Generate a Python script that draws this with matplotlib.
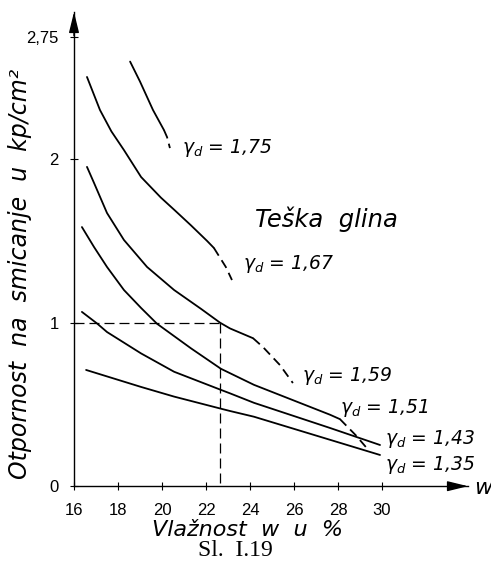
import matplotlib
matplotlib.use("Agg")
import matplotlib.pyplot as plt

# moisture w (%) and shear resistance (kp/cm2)
# each curve: solid part + dashed continuation
w_175 = [18.55, 19.0, 19.59, 20.09]
t_175 = [2.597, 2.475, 2.301, 2.178]
w_175d = [20.09, 20.23, 20.36]
t_175d = [2.178, 2.135, 2.068]

w_167 = [16.59, 17.18, 17.7, 18.27, 19.05, 19.95, 20.6, 21.32, 22.05, 22.36]
t_167 = [2.503, 2.301, 2.17, 2.056, 1.891, 1.765, 1.685, 1.595, 1.50, 1.457]
w_167d = [22.36, 22.9, 23.18]
t_167d = [1.457, 1.341, 1.261]

w_159 = [16.59, 16.91, 17.5, 18.27, 19.32, 20.55, 21.77, 22.64, 23.09, 24.14]
t_159 = [1.953, 1.855, 1.671, 1.506, 1.341, 1.200, 1.085, 1.0, 0.965, 0.905]
w_159d = [24.14, 24.59, 25.36, 25.95]
t_159d = [0.905, 0.851, 0.741, 0.631]

w_151 = [16.36, 16.91, 17.5, 18.27, 19.05, 19.77, 21.32, 22.68, 24.18, 27.64, 28.09]
t_151 = [1.585, 1.463, 1.341, 1.200, 1.090, 0.994, 0.843, 0.718, 0.620, 0.437, 0.41]
w_151d = [28.09, 28.82, 29.36]
t_151d = [0.41, 0.31, 0.225]

w_143 = [16.36, 17.05, 17.5, 19.05, 20.55, 22.68, 23.09, 24.18, 27.64, 29.91]
t_143 = [1.066, 0.995, 0.943, 0.812, 0.700, 0.589, 0.568, 0.51, 0.356, 0.252]

w_135 = [16.55, 19.05, 20.55, 22.68, 23.09, 24.18, 29.91]
t_135 = [0.711, 0.607, 0.548, 0.474, 0.460, 0.425, 0.191]

# reference point (w = 22.6 %, 1 kp/cm2)
w_ref = 22.64
t_ref = 1.0

labels = ["1,75", "1,67", "1,59", "1,51", "1,43", "1,35"]
label_w = [20.91, 23.68, 26.36, 28.09, 30.14, 30.14]
label_t = [2.07, 1.36, 0.675, 0.48, 0.29, 0.13]

xticks = [16, 18, 20, 22, 24, 26, 28, 30]
yticks = [0, 1, 2, 2.75]
ytick_labels = ["0", "1", "2", "2,75"]

plt.rcParams['font.family'] = ['DejaVu Sans']

fig = plt.figure(figsize=(4.91, 5.70), dpi=100)
ax = fig.add_axes([74 / 491, 1 - 486.2 / 570, 394 / 491, (486.2 - 12) / 570])
ax.set_xlim(16, 16 + 394 / 22)
ax.set_ylim(0, (486.2 - 12) / 163.5)

lw = 1.3
dash = (0, (5, 3))
for ws, ts in [(w_175, t_175), (w_167, t_167), (w_159, t_159), (w_151, t_151),
               (w_143, t_143), (w_135, t_135)]:
    ax.plot(ws, ts, color='black', lw=lw, solid_capstyle='round', solid_joinstyle='round')
for ws, ts in [(w_175d, t_175d), (w_167d, t_167d), (w_159d, t_159d), (w_151d, t_151d)]:
    ax.plot(ws, ts, color='black', lw=lw, linestyle=dash)

# dashed guide lines
ax.plot([16, w_ref], [t_ref, t_ref], color='black', lw=0.9, linestyle=(0, (8, 4)))
ax.plot([w_ref, w_ref], [t_ref, 0], color='black', lw=0.9, linestyle=(0, (8, 4)))

for lab, lx, ly in zip(labels, label_w, label_t):
    ax.text(lx, ly, r"$\gamma_d$ = " + lab, fontsize=13.5, style='italic',
            ha='left', va='center', clip_on=False)
ax.text(24.23, 1.63, "Teška  glina", fontsize=17.5, style='italic', ha='left', va='center')

# axes with arrows
for s in ['top', 'right']:
    ax.spines[s].set_visible(False)
ax.spines['left'].set_linewidth(1.0)
ax.spines['bottom'].set_linewidth(1.0)
arrow = dict(arrowstyle="-|>,head_length=0.9,head_width=0.22", color='black', lw=1.0,
             shrinkA=0, shrinkB=0, mutation_scale=14)
ax.annotate("", xy=(1.0, 0), xytext=(0.95, 0), xycoords='axes fraction', arrowprops=arrow)
ax.annotate("", xy=(0, 1.0), xytext=(0, 0.95), xycoords='axes fraction', arrowprops=arrow)

ax.set_xticks(xticks)
ax.set_xticklabels([str(x) for x in xticks], fontfamily='Liberation Sans', fontsize=12)
ax.set_yticks(yticks)
ax.set_yticklabels(ytick_labels, fontfamily='Liberation Sans', fontsize=12)
ax.tick_params(axis='x', direction='inout', length=6, width=0.8, pad=9)
ax.tick_params(axis='y', direction='inout', length=6, width=0.8, pad=8)

fig.text(474 / 491, 1 - 488 / 570, "w", fontsize=16, style='italic', va='center', ha='left')
fig.text(20 / 491, 1 - 274 / 570, "Otpornost  na  smicanje  u  kp/cm²", fontsize=17,
         style='italic', rotation=90, ha='center', va='center')
fig.text(248 / 491, 1 - 530 / 570, "Vlažnost  w  u  %", fontsize=16, style='italic',
         ha='center', va='center')
fig.text(235 / 491, 1 - 551 / 570, "Sl.  I.19", fontsize=17, fontfamily='Liberation Serif',
         ha='center', va='center')

fig.savefig("out.png", dpi=100)
